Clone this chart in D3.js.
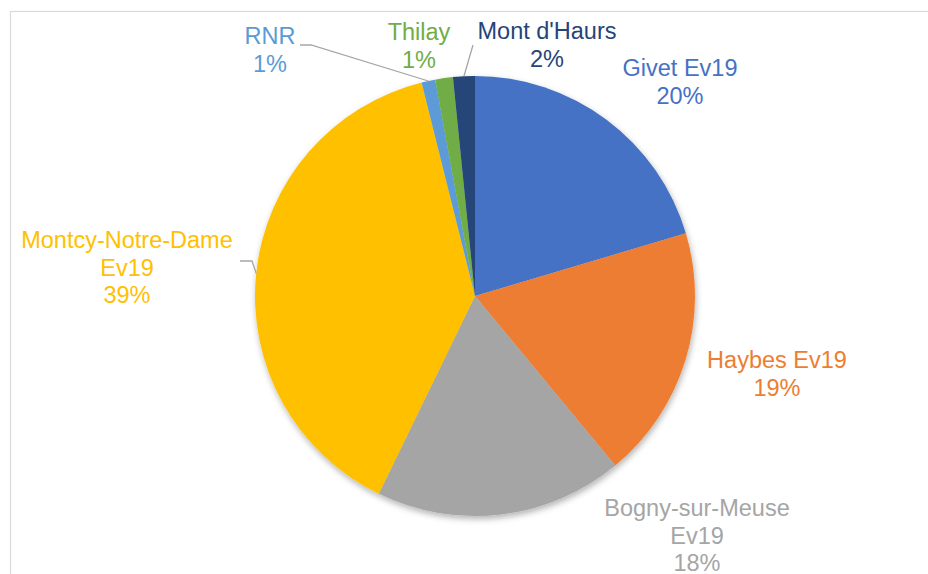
<!DOCTYPE html>
<html>
  <head>
    <meta charset="utf-8">
    <script src="https://cdn.jsdelivr.net/npm/d3@7"></script>
    <style>
      body {
        margin: 0px;
        background: #fff;
      }
      .label text {
        font-family: "Liberation Sans", Arial, sans-serif;
        font-size: 23.5px;
        text-anchor: middle;
      }
    </style>
  </head>
  <body>
    <svg width="928" height="574"></svg>
    <script>
      // data
      var names = ['Givet Ev19', 'Haybes Ev19', 'Bogny-sur-Meuse Ev19', 'Montcy-Notre-Dame Ev19', 'RNR', 'Thilay', "Mont d'Haurs"];
      var values = [20.4, 18.6, 18.2, 38.9, 1.0, 1.3, 1.6];
      var labelLines = [
        ['Givet Ev19'],
        ['Haybes Ev19'],
        ['Bogny-sur-Meuse', 'Ev19'],
        ['Montcy-Notre-Dame', 'Ev19'],
        ['RNR'],
        ['Thilay'],
        ["Mont d'Haurs"]
      ];
      var colors = ['#4472C4', '#ED7D31', '#A5A5A5', '#FFC000', '#5B9BD5', '#70AD47', '#264478'];

      // where excel put the labels (centre x, first baseline) and leader elbows
      var labelPos = [
        { x: 680, y: 76 },
        { x: 777, y: 368 },
        { x: 697, y: 516 },
        { x: 127, y: 248, leader: [[252, 261], [240, 261]] },
        { x: 270, y: 44, leader: [[311, 45], [300, 45]] },
        { x: 419, y: 40 },
        { x: 547, y: 39, leader: [[473, 45]] }
      ];

      var svg = d3.select('svg');
      var cx = 475, cy = 296, radius = 220, lineH = 27.5;

      // chart frame (only top and left edges are in view)
      svg.append('rect')
          .attr('x', 10.5).attr('y', 11.5)
          .attr('width', 1200).attr('height', 1200)
          .attr('fill', 'none')
          .attr('stroke', '#D9D9D9')
          .attr('stroke-width', 1.2);

      var defs = svg.append('defs');
      defs.append('filter')
          .attr('id', 'shadow')
          .attr('x', '-20%').attr('y', '-20%')
          .attr('width', '140%').attr('height', '140%')
        .append('feDropShadow')
          .attr('dx', 1).attr('dy', 3)
          .attr('stdDeviation', 3)
          .attr('flood-color', '#000')
          .attr('flood-opacity', 0.3);

      var data = names.map(function (n, i) { return { name: n, value: values[i], i: i }; });

      var pie = d3.pie().sort(null).value(function (d) { return d.value; });
      var arcs = pie(data);
      var total = d3.sum(values);

      var arc = d3.arc().innerRadius(0).outerRadius(radius);
      var edge = d3.arc().innerRadius(radius).outerRadius(radius);

      var g = svg.append('g')
          .attr('transform', `translate(${cx},${cy})`);

      g.append('g')
          .attr('filter', 'url(#shadow)')
        .selectAll('path')
        .data(arcs)
        .enter().append('path')
          .attr('fill', function (d) { return colors[d.data.i]; })
          .attr('d', arc);

      // leader lines from slice edge to label
      var line = d3.line();
      arcs.forEach(function (d, i) {
        var lp = labelPos[i];
        if (!lp.leader) return;
        var p = edge.centroid(d);
        var pts = [[p[0] + cx, p[1] + cy]].concat(lp.leader);
        svg.append('path')
            .attr('d', line(pts))
            .attr('fill', 'none')
            .attr('stroke', '#A6A6A6')
            .attr('stroke-width', 1.3);
      });

      var labels = svg.selectAll('.label')
        .data(arcs)
        .enter().append('g')
          .attr('class', 'label');

      labels.each(function (d, i) {
        var lp = labelPos[i];
        var t = d3.select(this).append('text')
            .attr('fill', colors[i]);
        var lines = labelLines[i].concat([Math.round(d.data.value / total * 100) + '%']);
        lines.forEach(function (s, k) {
          t.append('tspan')
              .attr('x', lp.x)
              .attr('y', lp.y + k * lineH)
              .text(s);
        });
      });
    </script>
  </body>
</html>
